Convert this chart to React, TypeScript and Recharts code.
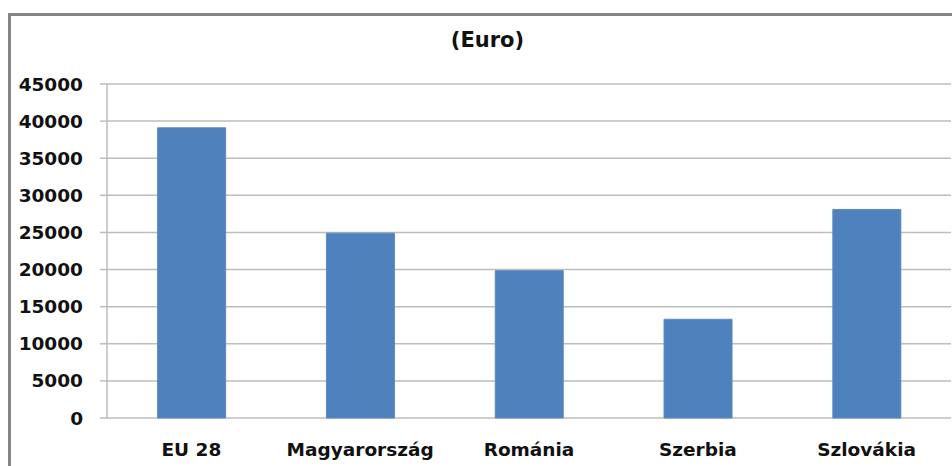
import { BarChart, Bar, XAxis, YAxis, CartesianGrid } from 'recharts';

const countries = ['EU 28', 'Magyarország', 'Románia', 'Szerbia', 'Szlovákia'];
const values = [39100, 24900, 19850, 13300, 28100];
const yTicks = [0, 5000, 10000, 15000, 20000, 25000, 30000, 35000, 40000, 45000];
const boundaryTicks = [0, 1, 2, 3, 4, 5];

const data = countries.map((name, i) => ({ name, value: values[i], pos: i + 0.5 }));

const font = '"DejaVu Sans", sans-serif';
const grid = '#bdbdbd';

export default function App() {
  return (
    <div style={{ position: 'absolute', left: 0, top: 0, width: 952, height: 466, overflow: 'hidden', background: '#fff', fontFamily: font }}>
      <div style={{ position: 'absolute', left: 8, top: 13, width: 1000, height: 500, border: '3px solid #858585' }} />
      <div style={{ position: 'absolute', left: 0, width: 975, top: 28, textAlign: 'center', fontWeight: 'bold', fontSize: 21, color: '#111' }}>
        (Euro)
      </div>
      <div style={{ position: 'absolute', left: 0, top: 0 }}>
        <BarChart width={952} height={466} data={data} margin={{ top: 84, right: 1, left: 0, bottom: 0 }} barCategoryGap="30%">
          <CartesianGrid vertical={false} stroke={grid} strokeWidth={1.5} />
          <XAxis
            xAxisId="edges"
            dataKey="pos"
            type="number"
            domain={[0, 5]}
            ticks={boundaryTicks}
            height={0}
            axisLine={{ stroke: grid, strokeWidth: 1.5 }}
            tickLine={{ stroke: grid, strokeWidth: 1.5 }}
            tickSize={7}
            tickFormatter={() => ''}
          />
          <XAxis
            xAxisId="cat"
            dataKey="name"
            height={48}
            axisLine={false}
            tickLine={false}
            interval={0}
            tickMargin={19}
            tick={{ fill: '#111', fontSize: 18.5, fontWeight: 'bold', fontFamily: font }}
          />
          <YAxis
            domain={[0, 45000]}
            ticks={yTicks}
            width={107}
            interval={0}
            axisLine={{ stroke: grid, strokeWidth: 1.5 }}
            tickLine={{ stroke: grid, strokeWidth: 1.5 }}
            tickSize={7}
            tickMargin={17}
            tick={{ fill: '#111', fontSize: 18.5, fontWeight: 'bold', fontFamily: font }}
          />
          <Bar xAxisId="cat" dataKey="value" fill="#4f81bd" stroke="#5b8ac4" strokeWidth={1} isAnimationActive={false} />
        </BarChart>
      </div>
    </div>
  );
}
